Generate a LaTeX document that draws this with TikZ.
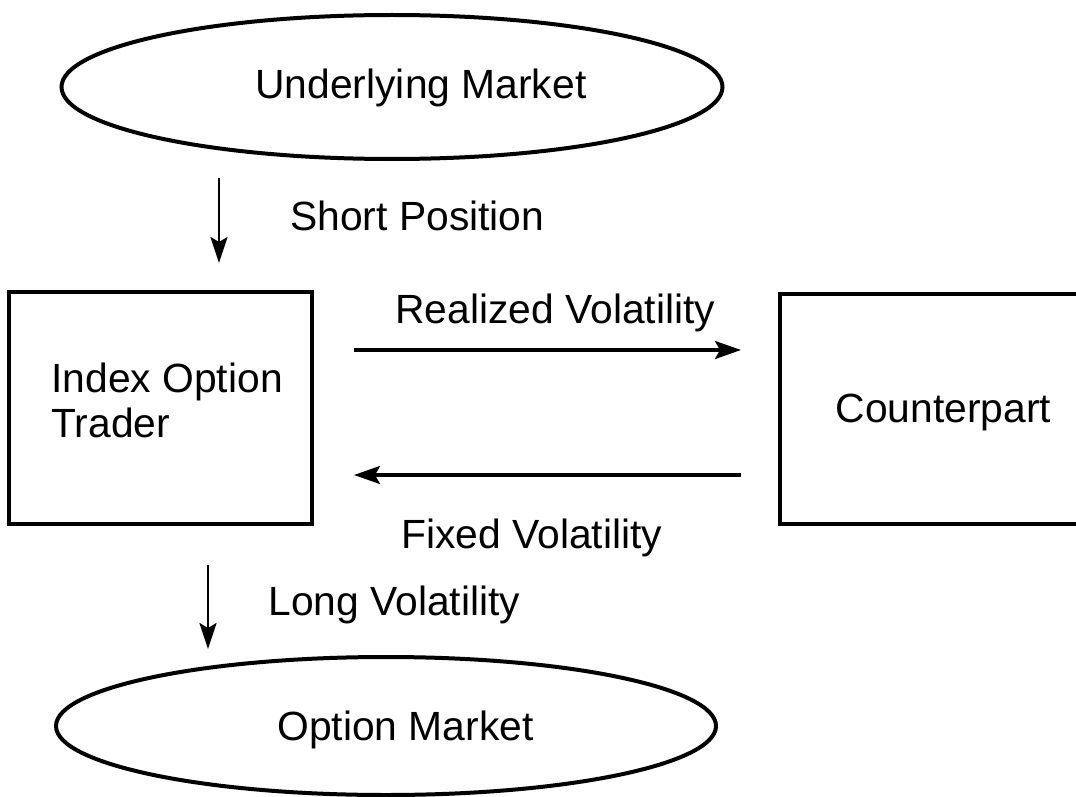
\documentclass[tikz,border=0pt]{standalone}
\usepackage{fontspec}
\setmainfont{Liberation Sans}
\usetikzlibrary{shapes.geometric,arrows.meta}
\begin{document}
\begin{tikzpicture}[x=0.5pt,y=-0.5pt,
  market/.style={draw, ellipse, line width=2pt, inner sep=0pt},
  party/.style={draw, rectangle, line width=1.8pt, inner sep=0pt},
  lbl/.style={font=\fontsize{20.4}{24}\selectfont, inner sep=0pt, anchor=base west},
  flow/.style={line width=1.6pt, -{Stealth[length=13pt,width=9pt,inset=2.5pt]}},
  vflow/.style={line width=1.2pt, -{Stealth[length=13pt,width=8.5pt,inset=2.5pt]}}]
\useasboundingbox (0,0) rectangle (1076,797);
\clip (0,0) rectangle (1076,797);
% top market
\node[market, minimum width=330.5pt, minimum height=72pt] (um) at (392,87) {};
\node[lbl] (umt) at (255,98) {Underlying Market};
% short position arrow
\coordinate (sp1) at (219,178);
\coordinate (sp2) at (219,263);
\draw[vflow] (sp1) -- (sp2);
\node[lbl] (spt) at (290,230) {Short Position};
% trader box
\node[party, minimum width=151.5pt, minimum height=116pt] (tr) at (160.5,408) {};
\node[lbl] (trt1) at (51,392) {Index Option};
\node[lbl] (trt2) at (51,437) {Trader};
% counterpart box (right side beyond the page)
\node[party, minimum width=163.5pt, minimum height=115pt] (cp) at (943.5,409) {};
\node[lbl, anchor=base] (cpt) at (943.5,422) {Counterpart};
% realized volatility arrow
\coordinate (rv1) at (354,350);
\coordinate (rv2) at (741,350);
\draw[flow] (rv1) -- (rv2);
\node[lbl] (rvt) at (395,323) {Realized Volatility};
% fixed volatility arrow
\coordinate (fv1) at (741,475);
\coordinate (fv2) at (354,475);
\draw[flow] (fv1) -- (fv2);
\node[lbl] (fvt) at (401,548) {Fixed Volatility};
% long volatility arrow
\coordinate (lv1) at (208,565);
\coordinate (lv2) at (208,649);
\draw[vflow] (lv1) -- (lv2);
\node[lbl] (lvt) at (268,615) {Long Volatility};
% option market
\node[market, minimum width=330pt, minimum height=69pt] (om) at (386,726) {};
\node[lbl] (omt) at (277,740) {Option Market};
\end{tikzpicture}
\end{document}
